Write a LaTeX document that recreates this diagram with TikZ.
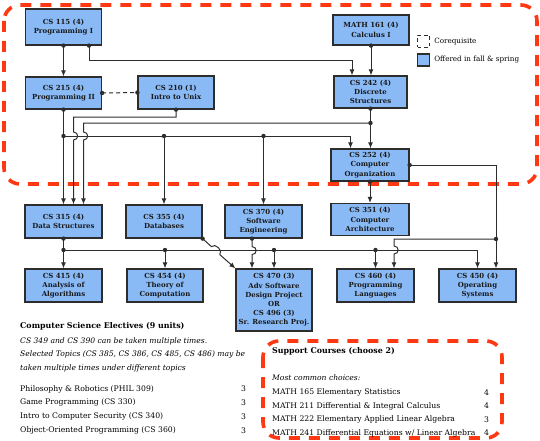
\documentclass[tikz,border=0pt]{standalone}
\usepackage{fontspec}
\setmainfont{DejaVu Serif}
\usepackage{xcolor}
\usepackage{tikz}
\usetikzlibrary{calc,positioning,arrows.meta}

\definecolor{coursefill}{RGB}{137,186,246}
\definecolor{redline}{RGB}{255,56,20}
\definecolor{wiregray}{RGB}{45,45,45}

\tikzset{
  course/.style={draw=wiregray, line width=1.2pt, fill=coursefill, minimum width=76pt, minimum height=32pt, inner sep=1pt, align=center, text=black!90, font=\bfseries\fontsize{6.95}{9.2}\selectfont},
  wire/.style={draw=wiregray, line width=1pt},
  feeds/.style={wire, -{Latex[length=6pt,width=5pt]}},
  redbox/.style={draw=redline, line width=3.6pt, dash pattern=on 11pt off 9pt, rounded corners=16pt},
  legtext/.style={inner sep=0pt, font=\fontsize{7.2}{8}\selectfont},
  listhead/.style={anchor=west, inner sep=0pt, font=\bfseries\fontsize{7.9}{9}\selectfont},
  listnote/.style={anchor=west, inner sep=0pt, font=\itshape\fontsize{7.6}{9}\selectfont},
  listitem/.style={anchor=west, inner sep=0pt, font=\fontsize{7.7}{9}\selectfont},
}

\begin{document}
\begin{tikzpicture}[x=1pt, y=-1pt]
  \useasboundingbox (0,0) rectangle (540,441);

  % dashed groups
  \draw[redbox] (4,5) rectangle (537,184);
  \draw[redbox] (263,341) rectangle (502,438);

  % courses
  \node[course, minimum height=36pt] (cs115) at (63.5,27) {CS 115 (4)\\Programming I};
  \node[course, minimum height=30pt] (math161) at (371,30) {MATH 161 (4)\\Calculus I};
  \node[course] (cs215) at (63.5,93) {CS 215 (4)\\Programming II};
  \node[course, minimum height=33pt] (cs210) at (176,92.5) {CS 210 (1)\\Intro to Unix};
  \node[course, minimum width=73pt] (cs242) at (370.5,92) {CS 242 (4)\\Discrete\\Structures};
  \node[course, minimum width=78pt] (cs252) at (370,165) {CS 252 (4)\\Computer\\Organization};
  \node[course, minimum width=77pt, minimum height=33pt] (cs315) at (63.5,221.5) {CS 315 (4)\\Data Structures};
  \node[course, minimum height=33pt] (cs355) at (164,221.5) {CS 355 (4)\\Databases};
  \node[course, minimum width=77pt, minimum height=33pt] (cs370) at (263.5,221.5) {CS 370 (4)\\Software\\Engineering};
  \node[course, minimum width=78pt] (cs351) at (370,219.5) {CS 351 (4)\\Computer\\Architecture};
  \node[course, minimum width=77pt, minimum height=33pt] (cs415) at (63.5,285.5) {CS 415 (4)\\Analysis of\\Algorithms};
  \node[course, minimum height=33pt] (cs454) at (165,285.5) {CS 454 (4)\\Theory of\\Computation};
  \node[course, minimum height=62pt] (cs470) at (274,300) {CS 470 (3)\\Adv Software\\Design Project\\OR\\CS 496 (3)\\Sr. Research Proj.};
  \node[course, minimum width=77pt, minimum height=33pt] (cs460) at (375.5,285.5) {CS 460 (4)\\Programming\\Languages};
  \node[course, minimum width=77pt, minimum height=33pt] (cs450) at (477.5,285.5) {CS 450 (4)\\Operating\\Systems};

  % legend
  \node[draw=wiregray, line width=1.1pt, dash pattern=on 3.5pt off 3pt, minimum size=12pt, inner sep=0pt] (legcoreq) at (423.5,41.5) {};
  \node[legtext, right=4pt of legcoreq] (legcoreqtext) {Corequisite};
  \node[draw=wiregray, line width=1.1pt, fill=coursefill, minimum size=12pt, inner sep=0pt] (legfall) at (423.5,60) {};
  \node[legtext, right=4pt of legfall] (legfalltext) {Offered in fall \& spring};

  % bus rows and side columns
  \coordinate (busa) at (0,136);
  \coordinate (busb) at (0,123);
  \coordinate (busc) at (0,117);
  \coordinate (busd) at (0,250);
  \coordinate (buse) at (0,239);
  \coordinate (cs115b) at ($(cs115.south)+(25.5,0)$);
  \coordinate (cs242l) at ($(cs242.north)+(-18.5,0)$);
  \coordinate (cs252l) at ($(cs252.north)+(-19.5,0)$);
  \coordinate (cs315m) at ($(cs315.north)+(10,0)$);
  \coordinate (cs315r) at ($(cs315.north)+(20,0)$);
  \coordinate (cs370l) at ($(cs370.south)+(-11.5,0)$);
  \coordinate (cs470l) at (cs370l |- cs470.north);
  \coordinate (cs460r) at ($(cs460.north)+(18.5,0)$);
  \coordinate (cs450r) at ($(cs450.north)+(18.5,0)$);

  % prerequisites
  \draw[feeds] (cs115.south) -- (cs215.north);
  \draw[feeds] (cs115b) -- ++(0,15) -| (cs242l);
  \draw[feeds] (math161.south) -- (math161.south |- cs242.north);
  \draw[wire, dash pattern=on 4pt off 3pt] (cs215.east) -- (cs210.west);
  \draw[feeds] (cs215.south) -- (cs315.north);
  \draw[feeds] (cs215.south |- busa) -| (cs252l);
  \draw[feeds] (cs355.north |- busa) -- (cs355.north);
  \draw[feeds] (cs370.north |- busa) -- (cs370.north);
  \draw[feeds] (cs210.south) -- (cs210.south |- busc) -- (cs315m |- busc) -- ++(0,15) .. controls +(5.5,0) and +(5.5,0) .. ++(0,8) -- (cs315m);
  \draw[feeds] (cs242.south) -- (cs242.south |- cs252.north);
  \draw[feeds] (cs242.south |- busb) -- (cs315r |- busb) -- ++(0,9) .. controls +(5.5,0) and +(5.5,0) .. ++(0,8) -- (cs315r);
  \draw[feeds] (cs252.south) -- (cs252.south |- cs351.north);
  \draw[feeds] (cs252.east) -| (cs450r);
  \draw[feeds] (cs450r |- buse) -- (cs460r |- buse) -- ++(0,7) .. controls +(5.5,0) and +(5.5,0) .. ++(0,8) -- (cs460r);
  \draw[feeds] (cs315.south) -- (cs415.north);
  \draw[feeds] (cs315.south |- busd) -| (cs450.north);
  \draw[feeds] (cs454.north |- busd) -- (cs454.north);
  \draw[feeds] (cs470.north |- busd) -- (cs470.north);
  \draw[feeds] (cs460.north |- busd) -- (cs460.north);
  \draw[feeds] (cs370l) -- ++(0,8) .. controls +(5.5,0) and +(5.5,0) .. ++(0,8) -- (cs470l);
  \draw[feeds] (cs355.south east) -- ++(8.8,8) .. controls +(3.7,-4) and +(3.7,-4) .. ++(8.4,8) -- (cs470.north west);

  % junction dots
  \foreach \pt in {cs115.south, cs115b, math161.south, cs215.east, cs210.west, cs215.south, cs215.south |- busa, cs355.north |- busa, cs370.north |- busa, cs210.south, cs242.south, cs242.south |- busb, cs252.east, cs252.south, cs450r |- buse, cs315.south, cs315.south |- busd, cs454.north |- busd, cs470.north |- busd, cs460.north |- busd, cs355.south east, cs370l}
    \fill[wiregray] (\pt) circle[radius=2.2];

  % electives
  \node[listhead] (elechead) at (20,326) {Computer Science Electives (9 units)};
  \node[listnote] (elecnote1) at (20,341) {CS 349 and CS 390 can be taken multiple times.};
  \node[listnote] (elecnote2) at (20,354.5) {Selected Topics (CS 385, CS 386, CS 485, CS 486) may be};
  \node[listnote] (elecnote3) at (20,368) {taken multiple times under different topics};
  \foreach \course/\units [count=\i] in {{Philosophy \& Robotics (PHIL 309)}/3, {Game Programming (CS 330)}/3, {Intro to Computer Security (CS 340)}/3, {Object-Oriented Programming (CS 360)}/3}
  {
    \node[listitem] (elec\i) at (20,375.3+13.8*\i) {\course};
    \node[listitem] (elecunits\i) at (241,375.3+13.8*\i) {\units};
  }

  % support courses
  \node[listhead] (supphead) at (272,351) {Support Courses (choose 2)};
  \node[listnote] (suppnote) at (272,378) {Most common choices:};
  \foreach \course/\units [count=\i] in {{MATH 165 Elementary Statistics}/4, {MATH 211 Differential \& Integral Calculus}/4, {MATH 222 Elementary Applied Linear Algebra}/3, {MATH 241 Differential Equations w/ Linear Algebra}/4}
  {
    \node[listitem] (supp\i) at (272,379+13.5*\i) {\course};
    \node[listitem] (suppunits\i) at (484,379+13.5*\i) {\units};
  }
\end{tikzpicture}
\end{document}
